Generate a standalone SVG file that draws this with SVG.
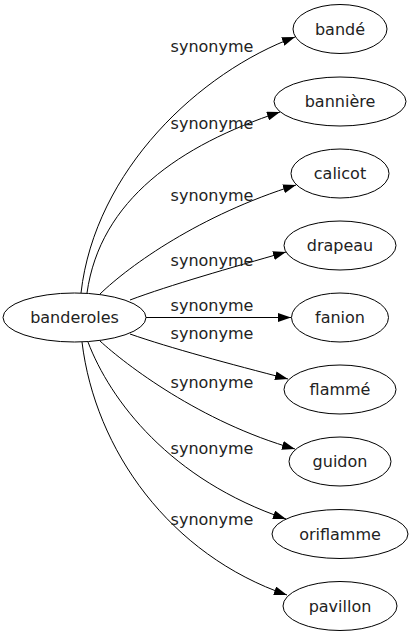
<svg xmlns="http://www.w3.org/2000/svg" width="413" height="635" viewBox="0 0 413 635">
<style>
.node ellipse{fill:#fff;stroke:#000;stroke-width:1}
.node text{font-family:"DejaVu Sans",sans-serif;font-size:16px;text-anchor:middle;fill:#222}
.edges path{fill:none;stroke:#000;stroke-width:1;marker-end:url(#arr)}
.edges text{font-family:"DejaVu Sans",sans-serif;font-size:16px;text-anchor:middle;fill:#222}
</style>
<defs>
<marker id="arr" viewBox="0 0 13 9" refX="13" refY="4.5" markerWidth="13" markerHeight="9" markerUnits="userSpaceOnUse" orient="auto">
<path d="M0,0 L13,4.5 L0,9 Z" fill="#000"/>
</marker>
</defs>
<rect width="413" height="635" fill="#fff"/>
<g class="edges" id="edges">
<path d="M81,293 C95,170 200,72 295,37"/>
<text x="212" y="52">synonyme</text>
<path d="M87,293 C100,200 180,145 280,112"/>
<text x="212" y="129">synonyme</text>
<path d="M100,294 C130,265 200,215 296,185"/>
<text x="212" y="201">synonyme</text>
<path d="M130,300 C170,285 230,268 286,252"/>
<text x="212" y="266">synonyme</text>
<path d="M146,317.5 L291,317.5"/>
<text x="212" y="311">synonyme</text>
<path d="M130,334 C170,348 230,364 288,379"/>
<text x="212" y="339">synonyme</text>
<path d="M100,341 C125,364 200,422 295,449"/>
<text x="212" y="388">synonyme</text>
<path d="M88,342 C110,400 170,480 286,519"/>
<text x="212" y="454">synonyme</text>
<path d="M82,342 C95,450 170,555 287,595"/>
<text x="212" y="525">synonyme</text>
</g>
<g class="node" id="banderoles"><ellipse cx="74.5" cy="317.5" rx="71.5" ry="24.5"/><text x="74.5" y="323">banderoles</text></g>
<g class="node" id="bande"><ellipse cx="340" cy="29" rx="47" ry="24.5"/><text x="340" y="34.5">bandé</text></g>
<g class="node" id="banniere"><ellipse cx="340" cy="101.5" rx="66" ry="24.5"/><text x="340" y="107">bannière</text></g>
<g class="node" id="calicot"><ellipse cx="340" cy="173.5" rx="49" ry="24.5"/><text x="340" y="179">calicot</text></g>
<g class="node" id="drapeau"><ellipse cx="340" cy="245.5" rx="56" ry="24.5"/><text x="340" y="251">drapeau</text></g>
<g class="node" id="fanion"><ellipse cx="340" cy="317.5" rx="48.5" ry="24.5"/><text x="340" y="323">fanion</text></g>
<g class="node" id="flamme"><ellipse cx="340" cy="389.5" rx="56" ry="24.5"/><text x="340" y="395">flammé</text></g>
<g class="node" id="guidon"><ellipse cx="340" cy="461.5" rx="51" ry="24.5"/><text x="340" y="467">guidon</text></g>
<g class="node" id="oriflamme"><ellipse cx="340" cy="534" rx="68" ry="24.5"/><text x="340" y="539.5">oriflamme</text></g>
<g class="node" id="pavillon"><ellipse cx="340" cy="606" rx="57" ry="24.5"/><text x="340" y="611.5">pavillon</text></g>
</svg>
